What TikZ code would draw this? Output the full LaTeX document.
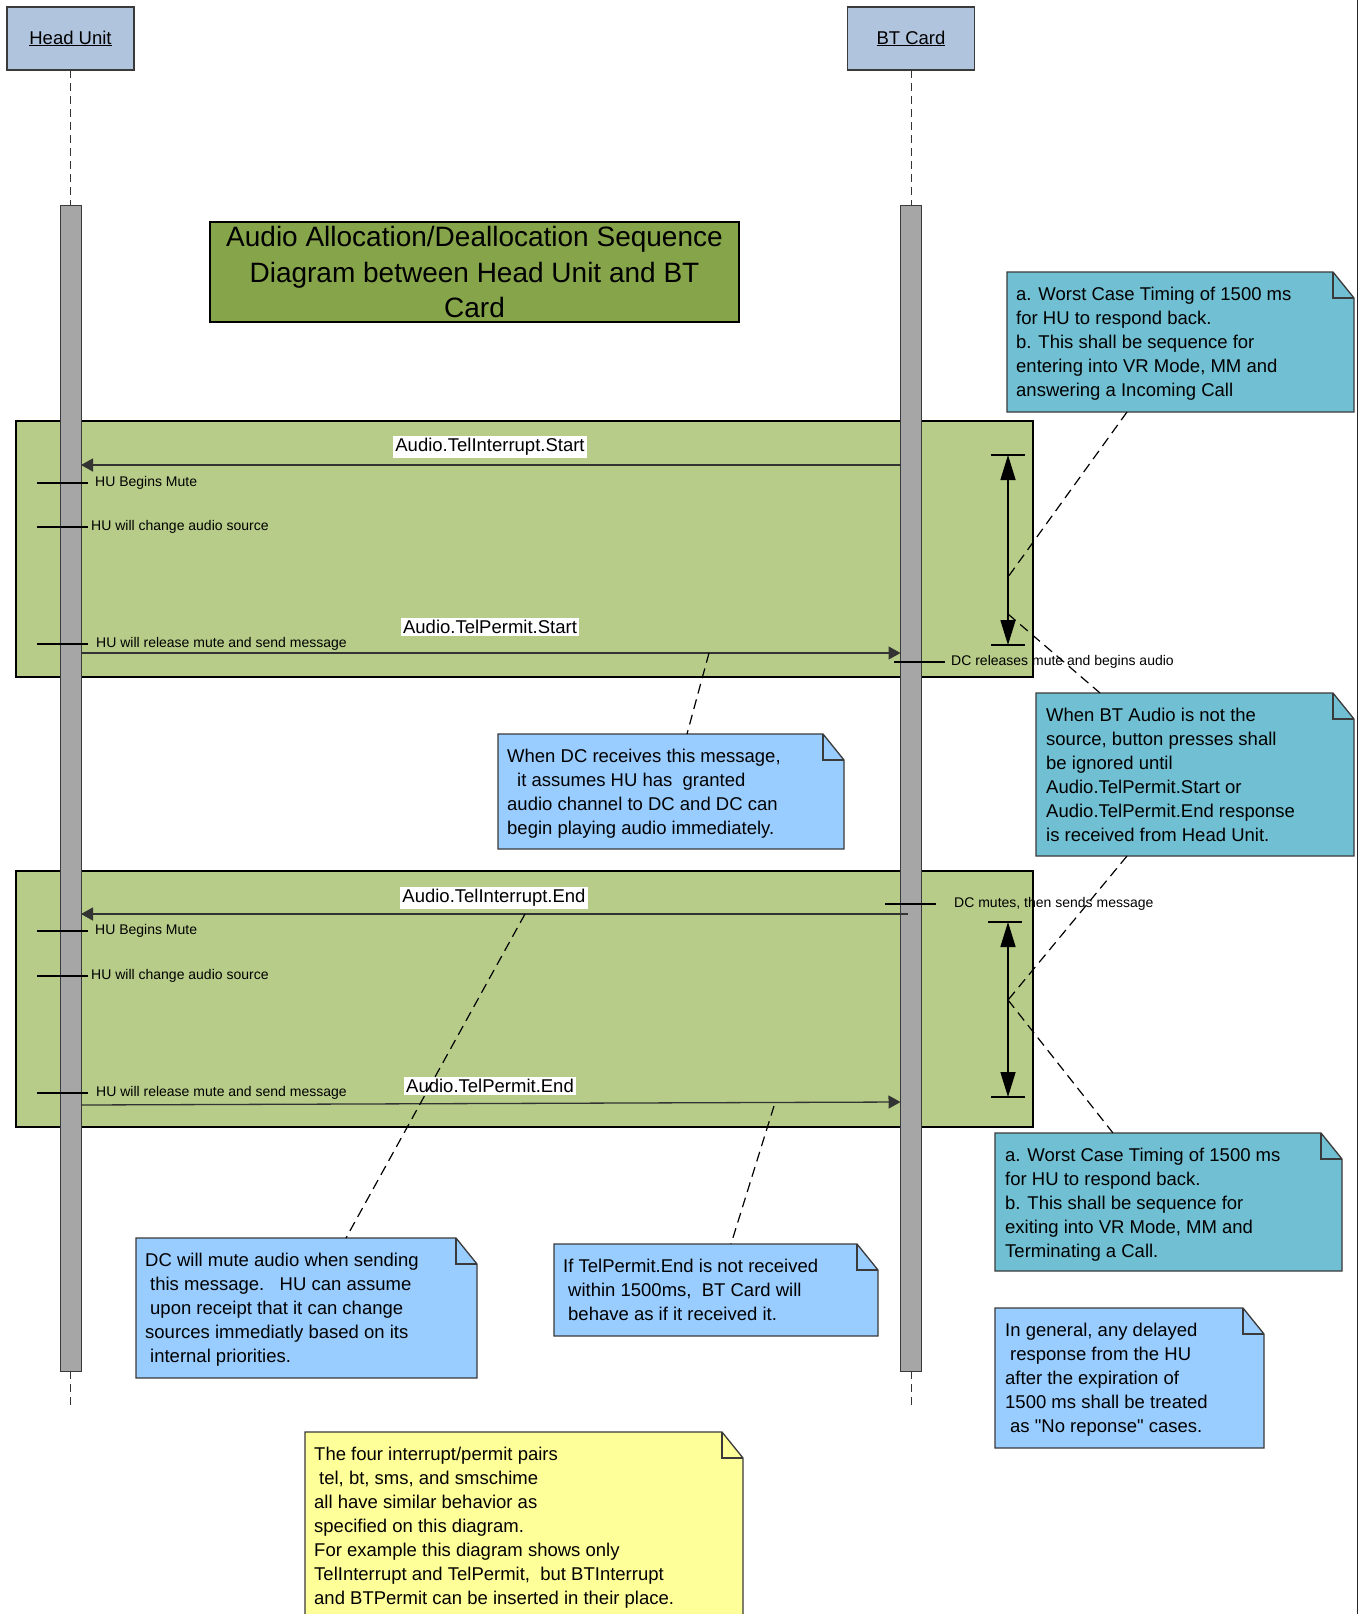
\documentclass[tikz,border=0pt]{standalone}
\usepackage{fontspec}
\setmainfont{Liberation Sans}
\newfontfamily\qfont[Ligatures=TeXOff]{Liberation Sans}
\usetikzlibrary{arrows.meta,calc,fit}
\definecolor{hdr}{HTML}{B0C4DE}
\definecolor{frm}{HTML}{B7CC88}
\definecolor{ttl}{HTML}{86A44A}
\definecolor{tealn}{HTML}{71BFD2}
\definecolor{lblue}{HTML}{99CCFF}
\definecolor{lyel}{HTML}{FFFF99}
\definecolor{barc}{HTML}{A6A6A6}
\definecolor{edge}{HTML}{3A3A3A}
\newcommand\foldnote[6]{%
  \node[fit={#2 #3},inner sep=0,outer sep=0] (#1) {};
  \path[fill=#4,draw=edge,line width=1.3pt] (#1.north west) -- ($(#1.north east)+(-21,0)$) -- ($(#1.north east)+(0,26)$) -- (#1.south east) -- (#1.south west) -- cycle;
  \draw[edge,line width=1.3pt] ($(#1.north east)+(-21,0)$) -- ($(#1.north east)+(-21,26)$) -- ($(#1.north east)+(0,26)$);
  \node[notetxt] (#1-t) at ($(#1.north west)+(#5)$) {#6};
}
\begin{document}
\begin{tikzpicture}[x=1pt,y=-1pt,
  hdrbox/.style={draw=edge,line width=1.2pt,fill=hdr,inner sep=0,outer sep=0,minimum width=127pt,minimum height=63pt,font=\fontsize{18.5}{22}\selectfont},
  actbar/.style={draw=edge,line width=1pt,fill=barc,inner sep=0,outer sep=0},
  framebox/.style={draw=black,line width=1.8pt,fill=frm,inner sep=0,outer sep=0},
  lifeline/.style={draw=black!80,line width=0.9pt,dash pattern=on 8pt off 5pt},
  msg/.style={line width=1.3pt,draw=black!80,-{Triangle[length=12pt,width=13pt]}},
  msglbl/.style={fill=white,inner xsep=2pt,inner ysep=2pt,font=\fontsize{18.5}{22}\selectfont},
  tickline/.style={line width=1.3pt,draw=black},
  smalllbl/.style={font=\fontsize{14}{16}\selectfont,anchor=west,inner sep=0},
  notetxt/.style={anchor=north west,inner sep=0,align=left,font=\fontsize{18.5}{24}\selectfont},
  anchorline/.style={line width=1.2pt,dash pattern=on 10pt off 6pt},
  timing/.style={line width=1.6pt,{Triangle[length=25pt,width=15pt]}-{Triangle[length=25pt,width=15pt]}},
  timebar/.style={line width=1.6pt},
]
\useasboundingbox (0,0) rectangle (1359,1614);
\fill[white] (0,0) rectangle (1359,1614);
\draw[line width=1.5pt,black!85] (1357.5,0) -- (1357.5,1614);

% header boxes
\node[hdrbox] (hu) at (70.5,38.5) {\underline{Head Unit}};
\node[hdrbox] (bt) at (911,38.5) {\underline{BT Card}};

% frames
\node[framebox,fit={(16,421) (1033,677)}] (frame1) {};
\node[framebox,fit={(16,871) (1033,1127)}] (frame2) {};

% title
\node[fill=ttl,draw=black,line width=1.5pt,minimum width=529pt,minimum height=100pt,inner sep=0,align=center,
  font=\fontsize{28}{35.5}\selectfont] (title) at (474.5,272)
  {Audio Allocation/Deallocation Sequence\\Diagram between Head Unit and BT\\Card};

% activation bars
\node[actbar,fit={(60,205) (81,1371)}] (huact) {};
\node[actbar,fit={(900.5,205) (921.5,1371)}] (btact) {};

% lifelines
\coordinate (huend) at (70.5,1406);
\coordinate (btend) at (911,1406);
\draw[lifeline] (hu.south) -- (huact.north);
\draw[lifeline] (huact.south) -- (huend);
\draw[lifeline] (bt.south) -- (btact.north);
\draw[lifeline] (btact.south) -- (btend);

% messages frame 1
\draw[msg] (btact.west |- 0,465) -- (huact.east |- 0,465);
\node[msglbl] (m1) at (490,447) {Audio.TelInterrupt.Start};
\draw[msg] (huact.east |- 0,653) -- (btact.west |- 0,653);
\node[msglbl] (m2) at (490,627) {Audio.TelPermit.Start};

% messages frame 2
\draw[msg] ($(btact.west |- 0,914)+(7,0)$) -- (huact.east |- 0,914);
\node[msglbl] (m3) at (494,898) {Audio.TelInterrupt.End};
\draw[msg] (huact.east |- 0,1105) -- (btact.west |- 0,1102);
\node[msglbl] (m4) at (490,1086) {Audio.TelPermit.End};

% HU side labels
\node[smalllbl] (s1) at (95,483) {HU Begins Mute};
\draw[tickline] ($(s1.west)+(-7,0)$) -- ++(-51,0);
\node[smalllbl] (s2) at (91,527) {HU will change audio source};
\draw[tickline] ($(s2.west)+(-3,0)$) -- ++(-51,0);
\node[smalllbl] (s3) at (96,644) {HU will release mute and send message};
\draw[tickline] ($(s3.west)+(-8,0)$) -- ++(-51,0);
\node[smalllbl] (s4) at (95,931) {HU Begins Mute};
\draw[tickline] ($(s4.west)+(-7,0)$) -- ++(-51,0);
\node[smalllbl] (s5) at (91,976) {HU will change audio source};
\draw[tickline] ($(s5.west)+(-3,0)$) -- ++(-51,0);
\node[smalllbl] (s6) at (96,1093) {HU will release mute and send message};
\draw[tickline] ($(s6.west)+(-8,0)$) -- ++(-51,0);

% BT side labels
\node[smalllbl] (d1) at (951,662) {DC releases mute and begins audio};
\draw[tickline] ($(d1.west)+(-6,0)$) -- ++(-51,0);
\node[smalllbl] (d2) at (954,904) {DC mutes, then sends message};
\draw[tickline] ($(d2.west)+(-18,0)$) -- ++(-51,0);

% timing arrows
\coordinate (t1a) at (1008,455);
\coordinate (t1b) at (1008,645);
\draw[timebar] (991,455) -- (1025,455);
\draw[timebar] (991,645) -- (1025,645);
\draw[timing] (t1a) -- (t1b);
\coordinate (t2a) at (1008,922);
\coordinate (t2b) at (1008,1097);
\draw[timebar] (988,922) -- (1022,922);
\draw[timebar] (991,1097) -- (1025,1097);
\draw[timing] (t2a) -- (t2b);

% notes
\foldnote{note1}{(1007,272)}{(1354,412)}{tealn}{9,14.5}{a. Worst Case Timing of 1500 ms\\for HU to respond back.\\b. This shall be sequence for\\entering into VR Mode, MM and\\answering a Incoming Call}
\foldnote{note2}{(1036,693)}{(1354,856)}{tealn}{10,14.5}{When BT Audio is not the\\source, button presses shall\\be ignored until\\Audio.TelPermit.Start or\\Audio.TelPermit.End response\\is received from Head Unit.}
\foldnote{whendc}{(498,734)}{(844,849)}{lblue}{9,14.5}{When DC receives this message,\\\hspace*{10pt}it assumes HU has~ granted\\audio channel to DC and DC can\\begin playing audio immediately.}
\foldnote{note3}{(995,1133)}{(1342,1271)}{tealn}{10,14.5}{a. Worst Case Timing of 1500 ms\\for HU to respond back.\\b. This shall be sequence for\\exiting into VR Mode, MM and\\Terminating a Call.}
\foldnote{dcmute}{(136,1238)}{(477,1378)}{lblue}{9,14.5}{DC will mute audio when sending\\\hspace*{5pt}this message.\ \ \ HU can assume\\\hspace*{5pt}upon receipt that it can change\\sources immediatly based on its\\\hspace*{5pt}internal priorities.}
\foldnote{iftp}{(554,1244)}{(878,1336)}{lblue}{9,14.5}{If TelPermit.End is not received\\\hspace*{5pt}within 1500ms,\ \ BT Card will\\\hspace*{5pt}behave as if it received it.}
\foldnote{yel}{(305,1432)}{(743,1640)}{lyel}{9,14.5}{The four interrupt/permit pairs\\\hspace*{5pt}tel, bt, sms, and smschime\\all have similar behavior as\\specified on this diagram.\\For example this diagram shows only\\TelInterrupt and TelPermit,\ \ but BTInterrupt\\and BTPermit can be inserted in their place.}
\foldnote{ingen}{(995,1308)}{(1264,1448)}{lblue}{10,14.5}{In general, any delayed\\\hspace*{5pt}response from the HU\\after the expiration of\\1500 ms shall be treated\\\hspace*{5pt}as {\qfont"}No reponse{\qfont"} cases.}

% dashed note connectors
\coordinate (c1) at (1008,577);
\coordinate (c2) at (1008,614);
\coordinate (c3) at (1008,1000);
\coordinate (c5) at (525,914);
\coordinate (c6) at (709,653);
\coordinate (c7) at (774,1106);
\draw[anchorline] ($(note1.south west)+(120,0)$) -- (c1);
\draw[anchorline] (c2) -- ($(note2.north west)+(64,0)$);
\draw[anchorline] ($(note2.south west)+(91,0)$) -- (c3);
\draw[anchorline] (c3) -- ($(note3.north west)+(118,0)$);
\draw[anchorline] (c5) -- ($(dcmute.north west)+(210,0)$);
\draw[anchorline] (c6) -- ($(whendc.north west)+(189,0)$);
\draw[anchorline] (c7) -- ($(iftp.north west)+(177,0)$);
\end{tikzpicture}
\end{document}
